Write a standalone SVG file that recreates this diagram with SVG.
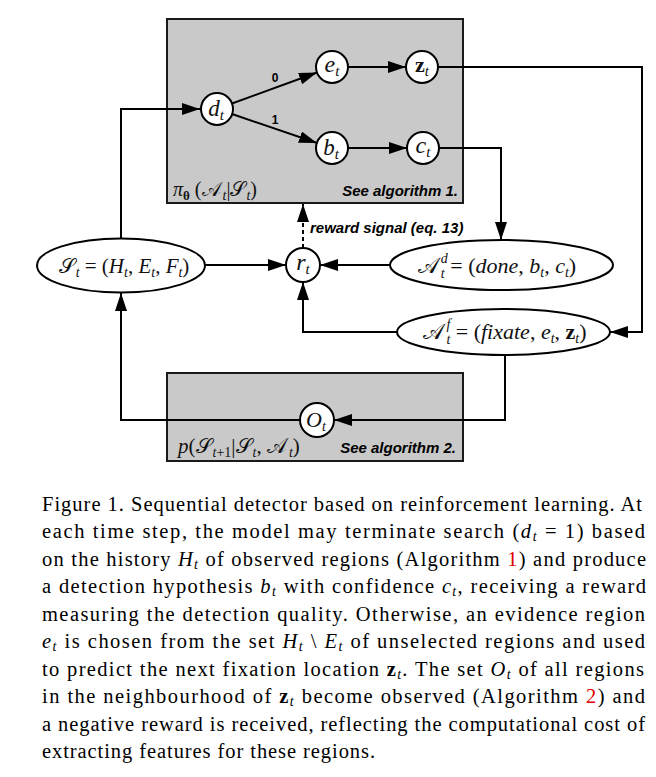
<svg xmlns="http://www.w3.org/2000/svg" width="656" height="777" viewBox="0 0 656 777">
<style>
.box{fill:#c9c9c9;stroke:#1a1a1a;stroke-width:2}
.node{fill:#fff;stroke:#000;stroke-width:2}
.edge{fill:none;stroke:#000;stroke-width:2}
.dash{fill:none;stroke:#000;stroke-width:2;stroke-dasharray:4,3}
.m{font-family:"Liberation Serif","DejaVu Serif",serif;font-style:italic;fill:#111}
.up{font-style:normal}
.scr{font-style:normal}
.bf{font-style:normal;font-weight:bold}
.sans{font-family:"Liberation Sans",Arial,sans-serif;font-weight:bold;fill:#000}
.bi{font-family:"Liberation Sans",Arial,sans-serif;font-weight:bold;font-style:italic;fill:#000;font-size:15px}
.cap{font-family:"Liberation Serif","Times New Roman",serif;font-size:20.5px;fill:#000}
.ci{font-style:italic}
.red{fill:#e00000}
</style>
<defs>
<marker id="arr" markerUnits="userSpaceOnUse" markerWidth="18" markerHeight="12" refX="18" refY="6" orient="auto">
<path d="M0,0 L18,6 L0,12 z" fill="#000"/>
</marker>
</defs>

<g id="policy-box">
<rect class="box" x="167" y="19" width="296" height="184"/>
<text class="m" x="173" y="196" font-size="20">π<tspan class="bf" font-size="13" dy="4">θ</tspan><tspan dy="-4" class="up"> (</tspan><tspan class="scr">𝒜</tspan><tspan font-size="14" dx="2" dy="4">t</tspan><tspan dy="-4" class="up">|</tspan><tspan class="scr">𝒮</tspan><tspan font-size="14" dx="1" dy="4">t</tspan><tspan dy="-4" class="up">)</tspan></text>
<text class="bi" x="458" y="196" text-anchor="end">See algorithm 1.</text>
</g>

<g id="transition-box">
<rect class="box" x="167" y="373" width="296" height="88"/>
<text class="m" x="178" y="453" font-size="21">p<tspan class="up">(</tspan><tspan class="scr">𝒮</tspan><tspan font-size="14" dx="1" dy="4" class="up"><tspan class="ci">t</tspan>+1</tspan><tspan dy="-4" class="up">|</tspan><tspan class="scr">𝒮</tspan><tspan font-size="14" dx="1" dy="4">t</tspan><tspan dy="-4" class="up">, </tspan><tspan class="scr">𝒜</tspan><tspan font-size="14" dx="2" dy="4">t</tspan><tspan dy="-4" class="up">)</tspan></text>
<text class="bi" x="456" y="453" text-anchor="end">See algorithm 2.</text>
</g>

<g id="connectors">
<path class="edge" d="M121,239 V109 H200" marker-end="url(#arr)"/>
<path class="edge" d="M232,103.5 L317,72.5" marker-end="url(#arr)"/>
<path class="edge" d="M232,114 L317,143" marker-end="url(#arr)"/>
<path class="edge" d="M348,67 H406" marker-end="url(#arr)"/>
<path class="edge" d="M348,148 H407" marker-end="url(#arr)"/>
<path class="edge" d="M438,67 H642 V332 H610" marker-end="url(#arr)"/>
<path class="edge" d="M439,148 H501 V240" marker-end="url(#arr)"/>
<path class="edge" d="M205,265 H286" marker-end="url(#arr)"/>
<path class="edge" d="M390,265 H320" marker-end="url(#arr)"/>
<path class="edge" d="M397,332 H303 V282" marker-end="url(#arr)"/>
<path class="dash" d="M303,248 V204" marker-end="url(#arr)"/>
<path class="edge" d="M505,355 V420 H334" marker-end="url(#arr)"/>
<path class="edge" d="M300,420 H121 V293" marker-end="url(#arr)"/>
<text class="sans" x="275" y="82" font-size="12" text-anchor="middle">0</text>
<text class="sans" x="275" y="124" font-size="12" text-anchor="middle">1</text>
<text class="bi" x="310" y="233">reward signal (eq. 13)</text>
</g>

<g id="node-d">
<circle class="node" cx="217" cy="109" r="16"/>
<text class="m" x="216" y="116" font-size="23" text-anchor="middle">d<tspan font-size="15" dy="4">t</tspan></text>
</g>
<g id="node-e">
<circle class="node" cx="332" cy="67" r="16"/>
<text class="m" x="332" y="72" font-size="24" text-anchor="middle">e<tspan font-size="15" dy="4">t</tspan></text>
</g>
<g id="node-z">
<circle class="node" cx="422" cy="67" r="16"/>
<text class="m" x="422" y="72" font-size="22" text-anchor="middle"><tspan class="bf">z</tspan><tspan font-size="15" dy="4">t</tspan></text>
</g>
<g id="node-b">
<circle class="node" cx="332" cy="148" r="16"/>
<text class="m" x="331" y="155" font-size="23" text-anchor="middle">b<tspan font-size="15" dy="4">t</tspan></text>
</g>
<g id="node-c">
<circle class="node" cx="423" cy="148" r="16"/>
<text class="m" x="423" y="153" font-size="24" text-anchor="middle">c<tspan font-size="15" dy="4">t</tspan></text>
</g>
<g id="node-r">
<circle class="node" cx="303" cy="265" r="17"/>
<text class="m" x="303" y="270" font-size="24" text-anchor="middle">r<tspan font-size="15" dy="4">t</tspan></text>
</g>
<g id="node-O">
<circle class="node" cx="317" cy="420" r="17"/>
<text class="m" x="316" y="427" font-size="22" text-anchor="middle">O<tspan font-size="14" dy="4">t</tspan></text>
</g>
<g id="node-S">
<ellipse class="node" cx="121" cy="265.5" rx="84" ry="27"/>
<text class="m" x="124" y="273" font-size="21" text-anchor="middle"><tspan class="scr">𝒮</tspan><tspan font-size="14" dx="1" dy="4">t</tspan><tspan dy="-4" class="up"> = (</tspan>H<tspan font-size="14" dy="4">t</tspan><tspan dy="-4" class="up">, </tspan>E<tspan font-size="14" dy="4">t</tspan><tspan dy="-4" class="up">, </tspan>F<tspan font-size="14" dy="4">t</tspan><tspan dy="-4" class="up">)</tspan></text>
</g>
<g id="node-Ad">
<ellipse class="node" cx="501.5" cy="265" rx="111.5" ry="25"/>
<text class="m" x="497" y="273" font-size="22" text-anchor="middle"><tspan class="scr">𝒜</tspan><tspan font-size="14" dx="2" dy="-10">d</tspan><tspan font-size="14" dx="-7" dy="15">t</tspan><tspan dy="-5" class="up"> = (</tspan>done<tspan class="up">, </tspan>b<tspan font-size="14" dy="4">t</tspan><tspan dy="-4" class="up">, </tspan>c<tspan font-size="14" dy="4">t</tspan><tspan dy="-4" class="up">)</tspan></text>
</g>
<g id="node-Af">
<ellipse class="node" cx="503.5" cy="332" rx="106.5" ry="23"/>
<text class="m" x="505" y="339" font-size="22" text-anchor="middle"><tspan class="scr">𝒜</tspan><tspan font-size="14" dx="2" dy="-10">f</tspan><tspan font-size="14" dx="-4" dy="15">t</tspan><tspan dy="-5" class="up"> = (</tspan>fixate<tspan class="up">, </tspan>e<tspan font-size="14" dy="4">t</tspan><tspan dy="-4" class="up">, </tspan><tspan class="bf">z</tspan><tspan font-size="14" dy="4">t</tspan><tspan dy="-4" class="up">)</tspan></text>
</g>

<g id="caption" class="cap">
<text x="42" y="510.5" textLength="600" lengthAdjust="spacing">Figure 1. Sequential detector based on reinforcement learning. At</text>
<text x="42" y="538" textLength="603" lengthAdjust="spacing">each time step, the model may terminate search (<tspan class="ci">d</tspan><tspan class="ci" font-size="14" dy="3">t</tspan><tspan dy="-3"> = 1) based</tspan></text>
<text x="42" y="565.5" textLength="604" lengthAdjust="spacing">on the history <tspan class="ci">H</tspan><tspan class="ci" font-size="14" dy="3">t</tspan><tspan dy="-3"> of observed regions (Algorithm </tspan><tspan class="red">1</tspan>) and produce</text>
<text x="42" y="593" textLength="604" lengthAdjust="spacing">a detection hypothesis <tspan class="ci">b</tspan><tspan class="ci" font-size="14" dy="3">t</tspan><tspan dy="-3"> with confidence </tspan><tspan class="ci">c</tspan><tspan class="ci" font-size="14" dy="3">t</tspan><tspan dy="-3">, receiving a reward</tspan></text>
<text x="42" y="620.5" textLength="603" lengthAdjust="spacing">measuring the detection quality.  Otherwise, an evidence region</text>
<text x="42" y="648" textLength="603" lengthAdjust="spacing"><tspan class="ci">e</tspan><tspan class="ci" font-size="14" dy="3">t</tspan><tspan dy="-3"> is chosen from the set </tspan><tspan class="ci">H</tspan><tspan class="ci" font-size="14" dy="3">t</tspan><tspan dy="-3"> \ </tspan><tspan class="ci">E</tspan><tspan class="ci" font-size="14" dy="3">t</tspan><tspan dy="-3"> of unselected regions and used</tspan></text>
<text x="42" y="675.5" textLength="602" lengthAdjust="spacing">to predict the next fixation location <tspan font-weight="bold">z</tspan><tspan class="ci" font-size="14" dy="3">t</tspan><tspan dy="-3">. The set </tspan><tspan class="ci">O</tspan><tspan class="ci" font-size="14" dy="3">t</tspan><tspan dy="-3"> of all regions</tspan></text>
<text x="42" y="703" textLength="603" lengthAdjust="spacing">in the neighbourhood of <tspan font-weight="bold">z</tspan><tspan class="ci" font-size="14" dy="3">t</tspan><tspan dy="-3"> become observed (Algorithm </tspan><tspan class="red">2</tspan>) and</text>
<text x="42" y="730.5" textLength="603" lengthAdjust="spacing">a negative reward is received, reflecting the computational cost of</text>
<text x="42" y="758" textLength="333" lengthAdjust="spacing">extracting features for these regions.</text>
</g>
</svg>
